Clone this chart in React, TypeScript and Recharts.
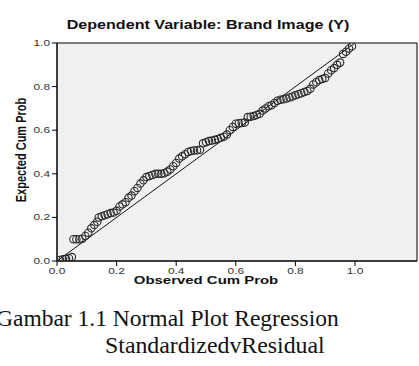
import React from "react";
import {
  ScatterChart,
  Scatter,
  XAxis,
  YAxis,
  ReferenceArea,
  ReferenceLine,
} from "recharts";

const observed: number[] = [
  0.01, 0.02, 0.03, 0.04, 0.05, 0.055, 0.065, 0.075, 0.085, 0.095,
  0.105, 0.115, 0.125, 0.135, 0.14, 0.15, 0.16, 0.17, 0.18, 0.19,
  0.2, 0.21, 0.22, 0.23, 0.24, 0.25, 0.26, 0.27, 0.28, 0.29,
  0.3, 0.31, 0.32, 0.33, 0.34, 0.35, 0.36, 0.37, 0.38, 0.39,
  0.4, 0.41, 0.42, 0.43, 0.44, 0.45, 0.46, 0.47, 0.48, 0.49,
  0.5, 0.51, 0.52, 0.53, 0.54, 0.55, 0.56, 0.57, 0.58, 0.59,
  0.6, 0.61, 0.62, 0.63, 0.64, 0.65, 0.66, 0.67, 0.68, 0.69,
  0.7, 0.71, 0.72, 0.73, 0.74, 0.75, 0.76, 0.77, 0.78, 0.79,
  0.8, 0.81, 0.82, 0.83, 0.84, 0.85, 0.86, 0.87, 0.88, 0.89,
  0.9, 0.91, 0.92, 0.93, 0.94, 0.95, 0.96, 0.97, 0.98, 0.99,
];

const expected: number[] = [
  0.005, 0.008, 0.01, 0.013, 0.018, 0.1, 0.1, 0.1, 0.102, 0.115,
  0.13, 0.15, 0.165, 0.18, 0.2, 0.205, 0.21, 0.215, 0.22, 0.222,
  0.23, 0.25, 0.26, 0.27, 0.29, 0.3, 0.32, 0.335, 0.355, 0.37,
  0.385, 0.39, 0.395, 0.4, 0.4, 0.4, 0.403, 0.41, 0.42, 0.435,
  0.45, 0.47, 0.48, 0.49, 0.5, 0.505, 0.507, 0.508, 0.51, 0.54,
  0.545, 0.55, 0.553, 0.556, 0.56, 0.565, 0.57, 0.58, 0.6, 0.615,
  0.63, 0.632, 0.633, 0.635, 0.66, 0.662, 0.665, 0.67, 0.675, 0.69,
  0.7, 0.71, 0.715, 0.725, 0.735, 0.74, 0.742, 0.745, 0.75, 0.755,
  0.76, 0.765, 0.77, 0.775, 0.78, 0.79, 0.81, 0.82, 0.83, 0.835,
  0.84, 0.86, 0.875, 0.885, 0.9, 0.91, 0.95, 0.96, 0.975, 0.985,
];

const tickValues: number[] = [0, 0.2, 0.4, 0.6, 0.8, 1.0];

const titleText = "Dependent Variable: Brand Image (Y)";
const xLabelText = "Observed Cum Prob";
const yLabelText = "Expected Cum Prob";
const captionLine1 = "Gambar 1.1 Normal Plot Regression";
const captionLine2 = "StandardizedvResidual";

const data = observed.map((x, i) => ({ x, y: expected[i] }));

const XTick = (props: any) => {
  const { x, y, payload } = props;
  return (
    <g transform={`translate(${x},${y})`}>
      <text
        transform="scale(1.4,1)"
        textAnchor="middle"
        dy={6}
        fontSize={8.5}
        fill="#333"
        fontFamily="Liberation Sans, Arial, sans-serif"
      >
        {Number(payload.value).toFixed(1)}
      </text>
    </g>
  );
};

const YTick = (props: any) => {
  const { x, y, payload } = props;
  return (
    <g transform={`translate(${x},${y})`}>
      <text
        transform="scale(1.4,1)"
        textAnchor="end"
        dy={3}
        fontSize={8.5}
        fill="#333"
        fontFamily="Liberation Sans, Arial, sans-serif"
      >
        {Number(payload.value).toFixed(1)}
      </text>
    </g>
  );
};

const Ring = (props: any) => {
  const { cx, cy } = props;
  return <circle cx={cx} cy={cy} r={3.7} fill="none" stroke="#2a2a2a" strokeWidth={1.1} />;
};

export default function App() {
  return (
    <div style={{ position: "absolute", left: 0, top: 0, width: 419, height: 366, background: "#fff" }}>
      <ScatterChart
        width={419}
        height={366}
        margin={{ top: 43, right: 2, left: 0, bottom: 0 }}
      >
        <XAxis
          type="number"
          dataKey="x"
          domain={[0, 1.208]}
          ticks={tickValues}
          allowDataOverflow
          height={105}
          tickSize={5}
          tickMargin={2}
          stroke="#000"
          tick={<XTick />}
        />
        <YAxis
          type="number"
          dataKey="y"
          domain={[0, 1]}
          ticks={tickValues}
          allowDataOverflow
          width={57}
          tickSize={5}
          tickMargin={2}
          stroke="#000"
          tick={<YTick />}
        />
        <ReferenceArea x1={0} x2={1.208} y1={0} y2={1} fill="#f0f0f0" fillOpacity={1} stroke="#000" strokeWidth={1} />
        <ReferenceLine segment={[{ x: 0, y: 0 }, { x: 1, y: 1 }]} stroke="#111" strokeWidth={1} />
        <Scatter data={data} shape={<Ring />} isAnimationActive={false} />
      </ScatterChart>
      <svg
        width={419}
        height={366}
        style={{ position: "absolute", left: 0, top: 0, pointerEvents: "none" }}
      >
        <g transform="translate(208,29) scale(1.24,1)">
          <text textAnchor="middle" fontSize={13} fontWeight="bold" fill="#111" fontFamily="Liberation Sans, Arial, sans-serif">
            {titleText}
          </text>
        </g>
        <g transform="translate(206,284) scale(1.3,1)">
          <text textAnchor="middle" fontSize={11.5} fontWeight="bold" fill="#111" fontFamily="Liberation Sans, Arial, sans-serif">
            {xLabelText}
          </text>
        </g>
        <g transform="translate(26,150) scale(1.3,1) rotate(-90)">
          <text textAnchor="middle" fontSize={11} fontWeight="bold" fill="#111" fontFamily="Liberation Sans, Arial, sans-serif">
            {yLabelText}
          </text>
        </g>
        <text x={-4} y={326} fontSize={23.5} fill="#111" fontFamily="Liberation Serif, Times New Roman, serif">
          {captionLine1}
        </text>
        <g transform="translate(105,353) scale(1.015,1)">
          <text x={0} y={0} fontSize={23.5} fill="#111" fontFamily="Liberation Serif, Times New Roman, serif">
            {captionLine2}
          </text>
        </g>
      </svg>
    </div>
  );
}
